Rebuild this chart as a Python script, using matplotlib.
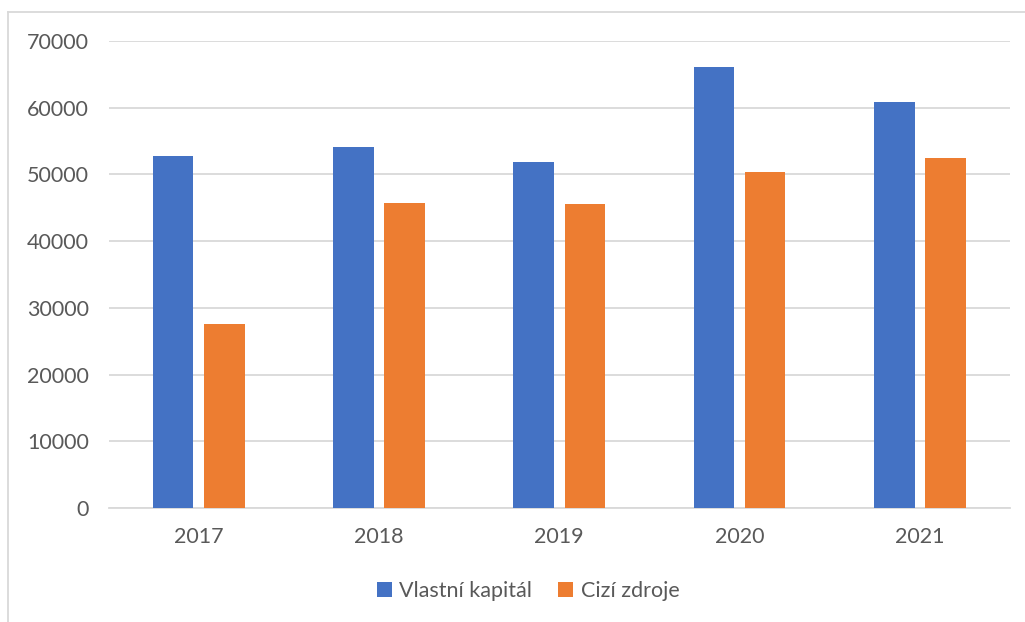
import matplotlib
matplotlib.use("Agg")
import matplotlib.pyplot as plt
from matplotlib.lines import Line2D
import numpy as np

years = ["2017", "2018", "2019", "2020", "2021"]
vlastni_kapital = [52800, 54050, 51800, 66050, 60850]
cizi_zdroje = [27550, 45750, 45550, 50400, 52400]
series_names = ["Vlastní kapitál", "Cizí zdroje"]
yticks = [0, 10000, 20000, 30000, 40000, 50000, 60000, 70000]

blue = "#4472C4"
orange = "#ED7D31"
text_color = "#595959"
grid_color = "#D9D9D9"

plt.rcParams["font.family"] = ["Lato", "DejaVu Sans"]

fig = plt.figure(figsize=(10.25, 6.22), dpi=100)
ax = fig.add_axes([108.5 / 1025, 1 - 508 / 622, (1010 - 108.5) / 1025, (508 - 41) / 622])

x = np.arange(len(years))
w = 0.225
off = 0.142
ax.bar(x - off, vlastni_kapital, width=w, color=blue, label=series_names[0], zorder=3)
ax.bar(x + off, cizi_zdroje, width=w, color=orange, label=series_names[1], zorder=3)

ax.set_xlim(-0.5, len(years) - 0.5)
ax.set_ylim(0, 70000)
ax.set_yticks(yticks)
ax.set_yticklabels([str(v) for v in yticks])
ax.set_xticks(x)
ax.set_xticklabels(years)
ax.yaxis.grid(True, color=grid_color, linewidth=1.3, zorder=0)
ax.set_axisbelow(True)
for s in ["top", "right", "left"]:
    ax.spines[s].set_visible(False)
ax.spines["bottom"].set_color(grid_color)
ax.spines["bottom"].set_linewidth(1.3)
ax.tick_params(axis="both", length=0, labelsize=15.5, colors=text_color)
ax.tick_params(axis="y", pad=14)
ax.tick_params(axis="x", pad=14)

leg = fig.legend(loc="center", bbox_to_anchor=(528 / 1025, 1 - 591 / 622), ncol=2,
                 frameon=False, fontsize=15.5, handlelength=0.7, handleheight=0.7,
                 handletextpad=0.35, columnspacing=1.2)
for t in leg.get_texts():
    t.set_color(text_color)

# chart border (partially visible: top and left)
fig.add_artist(Line2D([8 / 1025, 1.0], [1 - 12 / 622, 1 - 12 / 622], color=grid_color, linewidth=1.3, transform=fig.transFigure))
fig.add_artist(Line2D([8 / 1025, 8 / 1025], [0, 1 - 12 / 622], color=grid_color, linewidth=1.3, transform=fig.transFigure))

fig.savefig("out.png", dpi=100)
